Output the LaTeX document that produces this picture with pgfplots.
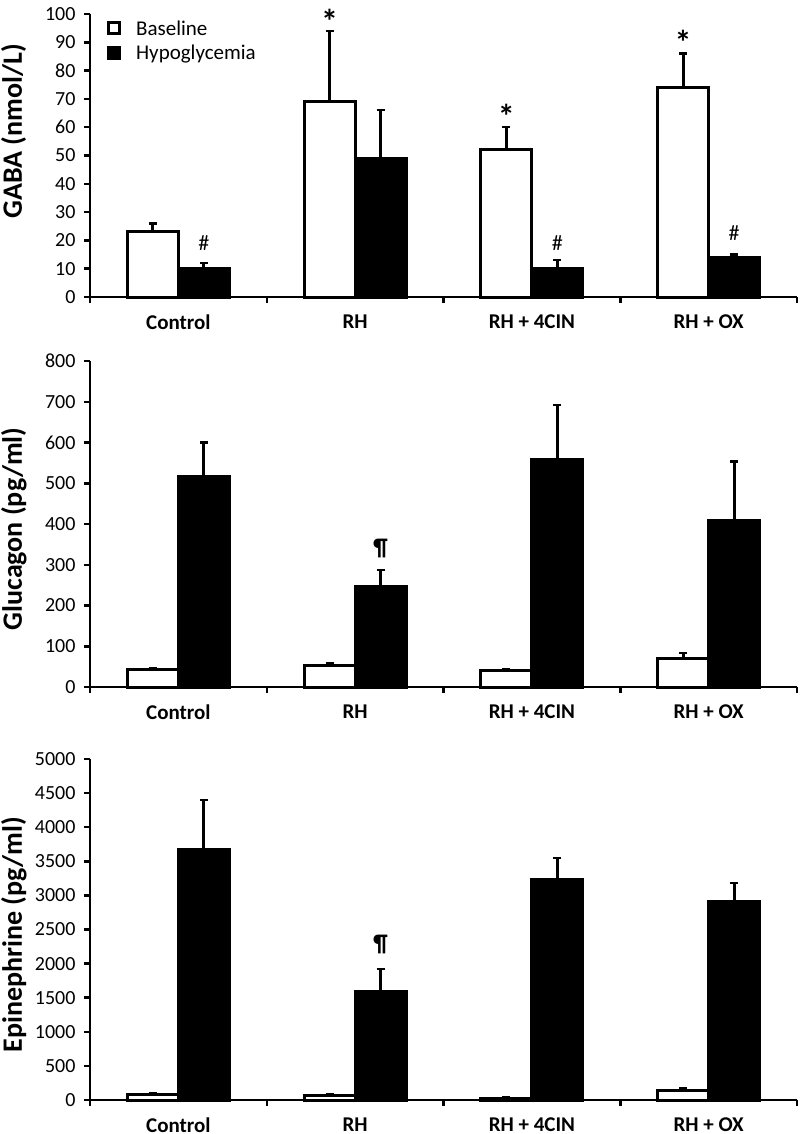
\documentclass[border=0pt]{standalone}
\usepackage{fontspec}
\setmainfont{Carlito}
\usepackage{pgfplots}
\pgfplotsset{compat=1.18}

\pgfplotsset{
  panel/.style={
    scale only axis, width=707bp,
    axis x line*=bottom, axis y line*=left,
    xmin=0, xmax=4,
    xtick={0,1,2,3,4}, xticklabels={,,,,},
    extra x ticks={0.5,1.5,2.5,3.5},
    extra x tick labels={Control,RH,RH + 4CIN,RH + OX},
    extra x tick style={major tick length=0pt, tick label style={font=\fontsize{21bp}{24bp}\selectfont\bfseries, yshift=-14bp}},
    tick align=outside,
    major tick length=6bp,
    axis line style={line width=2.5bp},
    every tick/.style={black, line width=2.5bp},
    yticklabel style={font=\fontsize{20bp}{23bp}\selectfont, xshift=-5bp},
    ylabel style={at={(axis description cs:-0.0962,0.5)}, anchor=base, font=\fontsize{28bp}{32bp}\selectfont\bfseries},
    ymin=0,
    clip=false,
    scaled y ticks=false,
    y tick label style={/pgf/number format/assume math mode=true, /pgf/number format/1000 sep={}},
  },
  base/.style={ybar, bar width=51bp, bar shift=0pt, fill=white, draw=black, line width=3bp,
    error bars/.cd, y dir=plus, y explicit,
    error bar style={line width=3bp, black},
    error mark options={rotate=90, line width=2.5bp, mark size=4bp, black}},
  hypo/.style={ybar, bar width=51bp, bar shift=0pt, fill=black, draw=black, line width=3bp,
    error bars/.cd, y dir=plus, y explicit,
    error bar style={line width=3bp, black},
    error mark options={rotate=90, line width=2.5bp, mark size=4bp, black}},
}

\begin{document}
\begin{tikzpicture}
\useasboundingbox (0bp,0bp) rectangle (809bp,-1134bp);

% ---------- GABA ----------
\begin{axis}[panel, at={(90bp,-297bp)}, anchor=origin, height=283bp,
  ymax=100, ytick={0,10,...,100},
  ylabel={GABA (nmol/L)},
  ylabel style={at={(axis description cs:-0.0962,0.585)}},
  legend style={at={(axis description cs:0.024,0.985)}, anchor=north west, draw=none, fill=none,
    font=\fontsize{21bp}{24bp}\selectfont, row sep=4bp, inner sep=0pt,
    /tikz/every even column/.append style={column sep=0bp}},
  legend cell align=left]
\addplot[legend image code/.code={\draw[fill=white,draw=black,line width=3bp] (0bp,-5.5bp) rectangle (11bp,5.5bp);}, base]
  coordinates {(0.356,23) +- (0,3) (1.356,69) +- (0,25) (2.356,52) +- (0,8) (3.356,74) +- (0,12)};
\addlegendentry{\hspace{13bp}Baseline}
\addplot[legend image code/.code={\draw[fill=black,draw=black,line width=3bp] (0bp,-5.5bp) rectangle (11bp,5.5bp);}, hypo]
  coordinates {(0.644,10) +- (0,2) (1.644,49) +- (0,17) (2.644,10) +- (0,3) (3.644,14) +- (0,1)};
\addlegendentry{\hspace{13bp}Hypoglycemia}
\node[font=\fontsize{34bp}{36bp}\selectfont\bfseries] at (axis cs:1.356,97.5) {*};
\node[font=\fontsize{34bp}{36bp}\selectfont\bfseries] at (axis cs:2.356,64) {*};
\node[font=\fontsize{34bp}{36bp}\selectfont\bfseries] at (axis cs:3.356,90) {*};
\node[font=\fontsize{22bp}{24bp}\selectfont] at (axis cs:0.644,19) {\#};
\node[font=\fontsize{22bp}{24bp}\selectfont] at (axis cs:2.644,19) {\#};
\node[font=\fontsize{22bp}{24bp}\selectfont] at (axis cs:3.644,22.6) {\#};
\end{axis}

% ---------- Glucagon ----------
\begin{axis}[panel, at={(90bp,-687bp)}, anchor=origin, height=326bp,
  ymax=800, ytick={0,100,...,800},
  ylabel={Glucagon (pg/ml)},
  ylabel style={at={(axis description cs:-0.0962,0.485)}}]
\addplot[base]
  coordinates {(0.356,42) +- (0,5) (1.356,52) +- (0,6) (2.356,40) +- (0,3) (3.356,69) +- (0,14)};
\addplot[hypo]
  coordinates {(0.644,516) +- (0,84) (1.644,246) +- (0,41) (2.644,559) +- (0,133) (3.644,409) +- (0,144)};
\node[font=\fontsize{24bp}{26bp}\selectfont\bfseries] at (axis cs:1.644,341) {\P};
\end{axis}

% ---------- Epinephrine ----------
\begin{axis}[panel, at={(90bp,-1100bp)}, anchor=origin, height=341bp,
  ymax=5000, ytick={0,500,...,5000},
  ylabel={Epinephrine (pg/ml)},
  ylabel style={at={(axis description cs:-0.0962,0.485)}}]
\addplot[base]
  coordinates {(0.356,80) +- (0,25) (1.356,65) +- (0,25) (2.356,25) +- (0,15) (3.356,140) +- (0,35)};
\addplot[hypo]
  coordinates {(0.644,3680) +- (0,720) (1.644,1590) +- (0,330) (2.644,3226) +- (0,320) (3.644,2918) +- (0,264)};
\node[font=\fontsize{24bp}{26bp}\selectfont\bfseries] at (axis cs:1.644,2273) {\P};
\end{axis}
\end{tikzpicture}
\end{document}
